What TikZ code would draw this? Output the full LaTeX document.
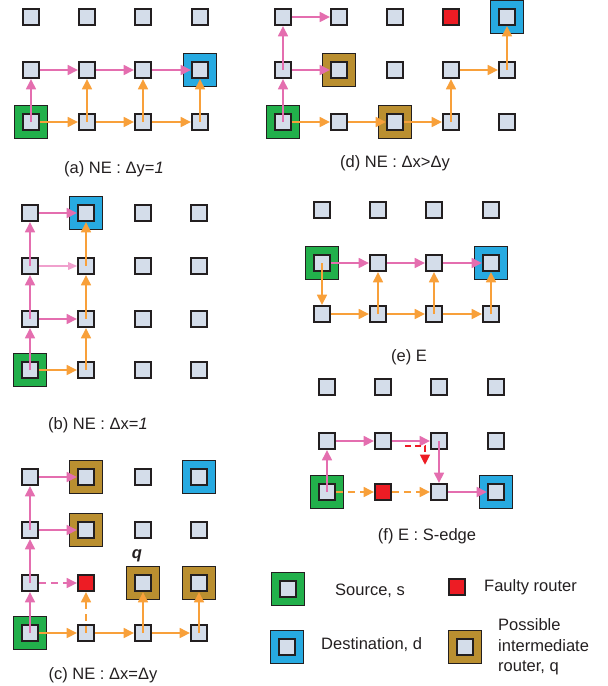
\documentclass[tikz,border=0pt]{standalone}
\usepackage{fontspec}
\setmainfont{Liberation Sans}
\usetikzlibrary{arrows.meta}
\definecolor{nodec}{RGB}{212,221,234}
\definecolor{bordc}{RGB}{35,31,32}
\definecolor{srcc}{RGB}{34,176,75}
\definecolor{dstc}{RGB}{39,170,225}
\definecolor{midc}{RGB}{186,143,48}
\definecolor{fltc}{RGB}{237,28,36}
\definecolor{pinkc}{RGB}{228,110,175}
\definecolor{lpinkc}{RGB}{240,160,205}
\definecolor{orc}{RGB}{248,160,58}
\definecolor{txtc}{RGB}{35,31,32}
\makeatletter
\newcommand\setred[1]{\expandafter\def\csname fill@#1\endcsname{fltc}}
\newcommand\mkgrid[3]{%
  \foreach[count=\i] \x in {#2}{%
    \foreach[count=\j] \y in {#3}{%
      \ifcsname fill@#1\i\j\endcsname
        \edef\fc{\csname fill@#1\i\j\endcsname}%
      \else
        \def\fc{nodec}%
      \fi
      \node[rt, fill=\fc] (#1\i\j) at (\x,\y) {};
    }}}
\makeatother
\setred{c23}\setred{d41}\setred{f23}
\begin{document}
\begin{tikzpicture}[x=1pt,y=-1pt,
  rt/.style={draw=bordc, fill=nodec, line width=1.8pt, minimum size=15.8pt, inner sep=0pt, rectangle},
  bigbox/.style={draw=bordc, line width=0.7pt, minimum size=33pt, inner sep=0pt, rectangle},
  srcbox/.style={bigbox, fill=srcc},
  dstbox/.style={bigbox, fill=dstc},
  midbox/.style={bigbox, fill=midc},
  arrtip/.style={-{Triangle[length=10.5pt,width=9.5pt]}},
  pk/.style={draw=pinkc, line width=2.7pt, arrtip},
  pkl/.style={draw=lpinkc, line width=1.5pt, -{Triangle[length=9pt,width=7.5pt]}},
  og/.style={draw=orc, line width=2.7pt, arrtip},
  rd/.style={draw=fltc, line width=2.7pt, arrtip},
  dsh/.style={dash pattern=on 7pt off 5pt},
  captxt/.style={font=\fontsize{16.5}{20}\selectfont, text=txtc, inner sep=0pt},
  legtxt/.style={font=\fontsize{16.5}{20.5}\selectfont, text=txtc, inner sep=0pt, anchor=west, align=left}
]
\useasboundingbox (0,0) rectangle (608,686);

% ---------- (a) ----------
\node[srcbox] (as) at (31,122) {};
\node[dstbox] (ad) at (200,70) {};
\mkgrid{a}{31,87,143,200}{17,70,122}
\draw[pk] (a13.center) -- (a12.south);
\draw[pk] (a12.east) -- (a22.west);
\draw[pk] (a22.east) -- (a32.west);
\draw[pk] (a32.east) -- (a42.west);
\draw[og] (a13.east) -- (a23.west);
\draw[og] (a23.east) -- (a33.west);
\draw[og] (a33.east) -- (a43.west);
\draw[og] (a23.center) -- (a22.south);
\draw[og] (a33.center) -- (a32.south);
\draw[og] (a43.center) -- (a42.south);
\node[captxt] (capa) at (114,169) {(a) NE : Δy=\textit{1}};

% ---------- (b) ----------
\node[srcbox] (bs) at (30,370) {};
\node[dstbox] (bd) at (86,213) {};
\mkgrid{b}{30,86,143,199}{213,266,319,370}
\draw[pk] (b14.center) -- (b13.south);
\draw[pk] (b13.center) -- (b12.south);
\draw[pk] (b12.center) -- (b11.south);
\draw[pk] (b11.east) -- (b21.west);
\draw[pk] (b13.east) -- (b23.west);
\draw[pkl] (b12.east) -- (b22.west);
\draw[og] (b14.east) -- (b24.west);
\draw[og] (b24.center) -- (b23.south);
\draw[og] (b23.center) -- (b22.south);
\draw[og] (b22.center) -- (b21.south);
\node[captxt] (capb) at (98,425) {(b) NE : Δx=\textit{1}};

% ---------- (c) ----------
\node[srcbox] (cs) at (30,633) {};
\node[dstbox] (cd) at (199,477) {};
\node[midbox] (cq1) at (86,477) {};
\node[midbox] (cq2) at (86,530) {};
\node[midbox] (cq3) at (143,583) {};
\node[midbox] (cq4) at (199,583) {};
\mkgrid{c}{30,86,143,199}{477,530,583,633}
\draw[pk] (c14.center) -- (c13.south);
\draw[pk] (c13.center) -- (c12.south);
\draw[pk] (c12.center) -- (c11.south);
\draw[pk] (c11.east) -- (c21.west);
\draw[pk] (c12.east) -- (c22.west);
\draw[pk,dsh] (c13.east) -- (c23.west);
\draw[og] (c14.east) -- (c24.west);
\draw[og] (c24.east) -- (c34.west);
\draw[og] (c34.east) -- (c44.west);
\draw[og,dsh] (c24.center) -- (c23.south);
\draw[og] (c34.center) -- (c33.south);
\draw[og] (c44.center) -- (c43.south);
\node[captxt, font=\fontsize{16.5}{20}\selectfont\bfseries\itshape] (qlab) at (137,556) {q};
\node[captxt] (capc) at (103,675) {(c) NE : Δx=Δy};

% ---------- (d) ----------
\node[srcbox] (ds) at (283,122) {};
\node[dstbox] (dd) at (507,17) {};
\node[midbox] (dq1) at (339,70) {};
\node[midbox] (dq2) at (395,122) {};
\mkgrid{d}{283,339,395,451,507}{17,70,122}
\draw[pk] (d13.center) -- (d12.south);
\draw[pk] (d12.center) -- (d11.south);
\draw[pk] (d11.east) -- (d21.west);
\draw[pk] (d12.east) -- (d22.west);
\draw[og] (d13.east) -- (d23.west);
\draw[og] (d23.east) -- (d33.west);
\draw[og] (d33.east) -- (d43.west);
\draw[og] (d43.center) -- (d42.south);
\draw[og] (d42.east) -- (d52.west);
\draw[og] (d52.center) -- (d51.south);
\node[captxt] (capd) at (395,163) {(d) NE : Δx>Δy};

% ---------- (e) ----------
\node[srcbox] (es) at (322,263) {};
\node[dstbox] (ed) at (491,263) {};
\mkgrid{e}{322,378,434,491}{210,263,314}
\draw[pk] (e12.east) -- (e22.west);
\draw[pk] (e22.east) -- (e32.west);
\draw[pk] (e32.east) -- (e42.west);
\draw[og] (e12.center) -- (e13.north);
\draw[og] (e13.east) -- (e23.west);
\draw[og] (e23.east) -- (e33.west);
\draw[og] (e33.east) -- (e43.west);
\draw[og] (e23.center) -- (e22.south);
\draw[og] (e33.center) -- (e32.south);
\draw[og] (e43.center) -- (e42.south);
\node[captxt] (cape) at (409,357) {(e) E};

% ---------- (f) ----------
\node[srcbox] (fs) at (327,492) {};
\node[dstbox] (fd) at (496,492) {};
\mkgrid{f}{327,383,439,496}{387,441,492}
\draw[pk] (f13.center) -- (f12.south);
\draw[pk] (f12.east) -- (f22.west);
\draw[pk] (f22.east) -- (f32.west);
\draw[pk] (f32.center) -- (f33.north);
\draw[pk] (f33.east) -- (f43.west);
\draw[og,dsh] (f13.east) -- (f23.west);
\draw[og,dsh] (f23.east) -- (f33.west);
\coordinate (fr1) at (405,446);
\coordinate (fr2) at (425,465);
\draw[rd, dash pattern=on 6pt off 4pt] (fr1) -| (fr2);
\node[captxt] (capf) at (427,536) {(f) E : S-edge};

% ---------- legend ----------
\node[srcbox] (ls) at (288,589) {};
\node[rt] (lsi) at (288,589) {};
\node[legtxt] (lst) at (335,591) {Source, s};
\node[dstbox] (ld) at (287,647) {};
\node[rt] (ldi) at (287,647) {};
\node[legtxt] (ldt) at (321,645) {Destination, d};
\node[rt, fill=fltc] (lf) at (457,587) {};
\node[legtxt] (lft) at (484,587) {Faulty router};
\node[midbox] (lm) at (465,647) {};
\node[rt] (lmi) at (465,647) {};
\node[legtxt] (lmt) at (498,647) {Possible\\intermediate\\router, q};
\end{tikzpicture}
\end{document}
